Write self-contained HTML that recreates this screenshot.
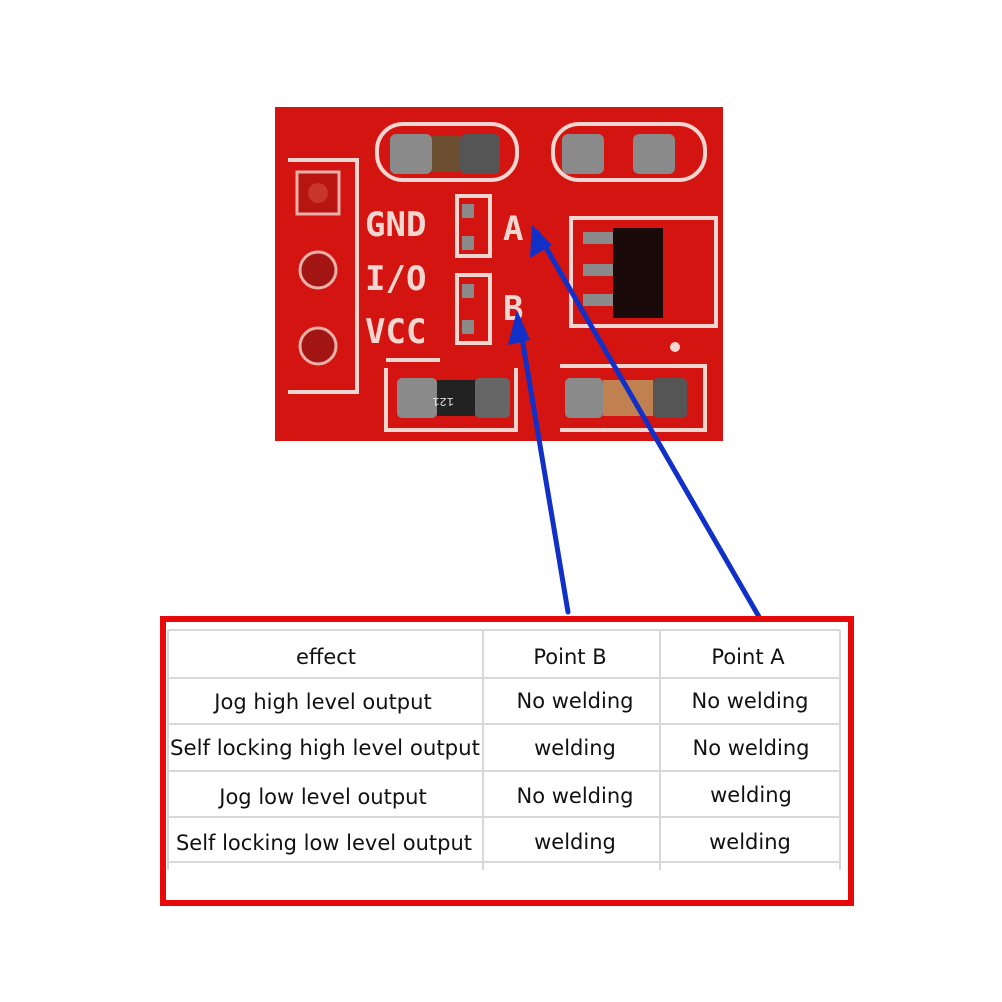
<!DOCTYPE html>
<html><head><style>body{margin:0;background:#fff}svg{display:block}</style></head><body>
<svg width="1002" height="1002" viewBox="0 0 1002 1002" xmlns="http://www.w3.org/2000/svg">
<rect width="1002" height="1002" fill="#fff"/>
<!-- PCB -->
<rect x="275" y="107" width="448" height="334" fill="#d31410"/>
<g fill="none" stroke="#f3d6cf" stroke-width="4">
<path d="M288 160 H357 V392 H288"/>
<rect x="377" y="124" width="140" height="56" rx="26"/>
<rect x="553" y="124" width="152" height="56" rx="26"/>
<rect x="457" y="196" width="33" height="60"/>
<rect x="457" y="275" width="33" height="68"/>
<rect x="571" y="218" width="145" height="108"/>
<path d="M386 368 V430 H516 V368 M440 360 H386"/>
<path d="M560 366 H705 V430 H560"/>
</g>
<g fill="#a31512" stroke="#e9b0a8" stroke-width="3">
<rect x="297" y="172" width="42" height="42" fill="#b81512"/>
<circle cx="318" cy="270" r="18"/>
<circle cx="318" cy="346" r="18"/>
</g>
<circle cx="318" cy="193" r="10" fill="#c8352e"/>
<g fill="#8a8a8a">
<rect x="390" y="134" width="42" height="40" rx="6"/>
<rect x="432" y="136" width="28" height="36" fill="#6b4f30"/>
<rect x="460" y="134" width="40" height="40" rx="6" fill="#555"/>
<rect x="562" y="134" width="42" height="40" rx="6"/>
<rect x="633" y="134" width="42" height="40" rx="6"/>
<rect x="397" y="378" width="40" height="40" rx="5"/>
<rect x="437" y="380" width="38" height="36" fill="#222"/>
<rect x="475" y="378" width="35" height="40" rx="5" fill="#666"/>
<rect x="565" y="378" width="38" height="40" rx="5"/>
<rect x="603" y="380" width="50" height="36" fill="#c08050"/>
<rect x="653" y="378" width="34" height="40" rx="5" fill="#555"/>
<rect x="462" y="204" width="12" height="14"/><rect x="462" y="236" width="12" height="14"/>
<rect x="462" y="284" width="12" height="14"/><rect x="462" y="320" width="12" height="14"/>
<rect x="583" y="232" width="30" height="12"/><rect x="583" y="264" width="30" height="12"/><rect x="583" y="294" width="30" height="12"/>
</g>
<rect x="613" y="228" width="50" height="90" fill="#1a0a0a"/>
<text x="454" y="406" font-family="Liberation Mono,monospace" font-size="12" fill="#ddd" transform="rotate(180 454 402)">121</text>
<circle cx="675" cy="347" r="5" fill="#f3d6cf"/>
<g font-family="DejaVu Sans Mono,Liberation Mono,monospace" font-weight="bold" font-size="34" fill="#f3d6cf">
<text x="365" y="236">GND</text>
<text x="365" y="290">I/O</text>
<text x="365" y="343">VCC</text>
<text x="503" y="240">A</text>
<text x="503" y="320">B</text>
</g>
<!-- arrows -->
<g stroke="#1030c8" stroke-width="5" fill="none" stroke-linecap="round">
<line x1="568" y1="612" x2="519" y2="320"/>
<line x1="762" y1="622" x2="537" y2="232"/>
</g>
<g fill="#1030c8">
<polygon points="517,310 508,345 530,340"/>
<polygon points="532,225 530,258 552,245"/>
</g>
<!-- table -->
<rect x="163" y="619" width="688" height="284" fill="#fff" stroke="#e80a0a" stroke-width="6"/>
<g stroke="#d8d8d8" stroke-width="2">
<line x1="168" y1="630" x2="840" y2="630"/>
<line x1="168" y1="678" x2="840" y2="678"/>
<line x1="168" y1="724" x2="840" y2="724"/>
<line x1="168" y1="771" x2="840" y2="771"/>
<line x1="168" y1="817" x2="840" y2="817"/>
<line x1="168" y1="862" x2="840" y2="862"/>
<line x1="168" y1="630" x2="168" y2="870"/>
<line x1="483" y1="630" x2="483" y2="870"/>
<line x1="660" y1="630" x2="660" y2="870"/>
<line x1="840" y1="630" x2="840" y2="870"/>
</g>
<g font-family="DejaVu Sans,Liberation Sans,sans-serif" font-size="21" fill="#111" text-anchor="middle">
<text x="326" y="664">effect</text><text x="570" y="664">Point B</text><text x="748" y="664">Point A</text>
<text x="323" y="709">Jog high level output</text><text x="575" y="708">No welding</text><text x="750" y="708">No welding</text>
<text x="325" y="755" textLength="310" lengthAdjust="spacingAndGlyphs">Self locking high level output</text><text x="575" y="755">welding</text><text x="751" y="755">No welding</text>
<text x="323" y="804">Jog low level output</text><text x="575" y="803">No welding</text><text x="751" y="802">welding</text>
<text x="324" y="850">Self locking low level output</text><text x="575" y="849">welding</text><text x="750" y="849">welding</text>
</g>
</svg>
</body></html>
